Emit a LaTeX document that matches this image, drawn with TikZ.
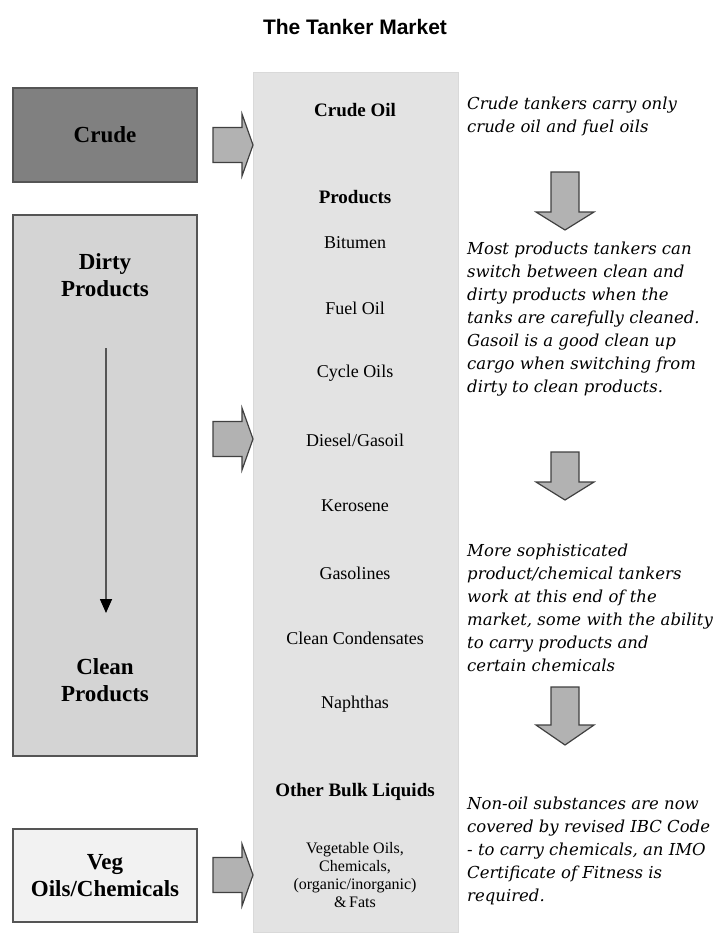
\documentclass[tikz,border=0pt]{standalone}
\usepackage{fontspec}
\setmainfont{Liberation Serif}
\setsansfont{Liberation Sans}
\newfontfamily\notefont{DejaVu Serif}
\usetikzlibrary{arrows.meta, positioning, calc}
\definecolor{crudegray}{RGB}{128,128,128}
\definecolor{dirtygray}{RGB}{212,212,212}
\definecolor{veggray}{RGB}{242,242,242}
\definecolor{colgray}{RGB}{227,227,227}
\definecolor{arrgray}{RGB}{178,178,178}
\definecolor{edgegray}{RGB}{85,85,85}

\begin{document}
\begin{tikzpicture}[x=1pt, y=-1pt,
    box/.style={rectangle, draw=edgegray, line width=1.6pt, inner sep=0pt},
    boxtext/.style={font=\fontsize{23}{27}\selectfont\bfseries, align=center},
    item/.style={font=\fontsize{18}{18}\selectfont, align=center},
    itemhead/.style={font=\fontsize{19}{22}\selectfont\bfseries},
    note/.style={anchor=north west, inner sep=0pt, align=left, font=\notefont\itshape\fontsize{16.5}{23}\selectfont},
    blockarr/.style={draw=black!75, fill=arrgray, line width=1.2pt, line join=miter}
]
\useasboundingbox (0,0) rectangle (720,937);

% Title
\node[font=\sffamily\bfseries\fontsize{21}{25}\selectfont] (title) at (355,27) {The Tanker Market};

% Left column: cargo groups
\node[box, fill=crudegray, minimum width=184pt, minimum height=94pt] (crude) at (105,135) {};
\node[boxtext] (crudelbl) at (crude) {Crude};
\node[box, fill=dirtygray, minimum width=184pt, minimum height=541pt] (dirty) at (105,485.5) {};
\node[boxtext] (dirtylbl) at (105,275) {Dirty\\Products};
\node[boxtext] (cleanlbl) at (105,680) {Clean\\Products};
\node[box, fill=veggray, minimum width=184pt, minimum height=93pt] (veg) at (105,875.5) {};
\node[boxtext] (veglbl) at (veg) {Veg\\Oils/Chemicals};

% dirty -> clean
\coordinate (shifttop) at (106,348);
\coordinate (shiftend) at (106,613);
\draw[edgegray, line width=1.6pt, -{Triangle[length=14pt, width=12pt, color=black]}] (shifttop) -- (shiftend);

% Middle column: the cargo list
\node[rectangle, draw=black!15, fill=colgray, line width=1pt, minimum width=205pt, minimum height=860pt] (market) at (355.5,502) {};
\node[itemhead] (crudeoil) at (355,110) {Crude Oil};
\node[itemhead] (products) at (355,197) {Products};
\node[item] (bitumen)  at (355,243) {Bitumen};
\node[item] (fueloil)  at (355,308) {Fuel Oil};
\node[item] (cycle)    at (355,373) {Cycle Oils};
\node[item] (diesel)   at (355,440) {Diesel/Gasoil};
\node[item] (kero)     at (355,506) {Kerosene};
\node[item] (gasoline) at (355,573) {Gasolines};
\node[item] (condens)  at (355,638) {Clean Condensates};
\node[item] (naphtha)  at (355,704) {Naphthas};
\node[itemhead] (otherbulk) at (355,792) {Other Bulk Liquids};
\node[item, font=\fontsize{16}{18}\selectfont] (vegoils) at (355,875) {Vegetable Oils,\\Chemicals,\\(organic/inorganic)\\\&\,Fats};

% Block arrows into the list
\draw[blockarr] (213,127.5) -- (242,127.5) -- (242,114) -- (253,145) -- (242,176) -- (242,162.5) -- (213,162.5) -- cycle;
\draw[blockarr] (213,421.5) -- (242,421.5) -- (242,408) -- (253,439) -- (242,470) -- (242,456.5) -- (213,456.5) -- cycle;
\draw[blockarr] (213,857.5) -- (242,857.5) -- (242,844) -- (253,875) -- (242,906) -- (242,892.5) -- (213,892.5) -- cycle;

% Right column: notes
\node[note] (note1) at (467,97)  {Crude tankers carry only\\crude oil and fuel oils};
\node[note] (note2) at (467,242) {Most products tankers can\\switch between clean and\\dirty products when the\\tanks are carefully cleaned.\\Gasoil is a good clean up\\cargo when switching from\\dirty to clean products.};
\node[note] (note3) at (467,544) {More sophisticated\\product/chemical tankers\\work at this end of the\\market, some with the ability\\to carry products and\\certain chemicals};
\node[note] (note4) at (467,797) {Non-oil substances are now\\covered by revised IBC Code\\- to carry chemicals, an IMO\\Certificate of Fitness is\\required.};

% Down arrows between notes
\draw[blockarr] (551,172) -- (579,172) -- (579,212) -- (594,212) -- (565,230) -- (536,212) -- (551,212) -- cycle;
\draw[blockarr] (551,452) -- (579,452) -- (579,482) -- (594,482) -- (565,500) -- (536,482) -- (551,482) -- cycle;
\draw[blockarr] (551,687) -- (579,687) -- (579,725) -- (594,725) -- (565,745) -- (536,725) -- (551,725) -- cycle;
\end{tikzpicture}
\end{document}
